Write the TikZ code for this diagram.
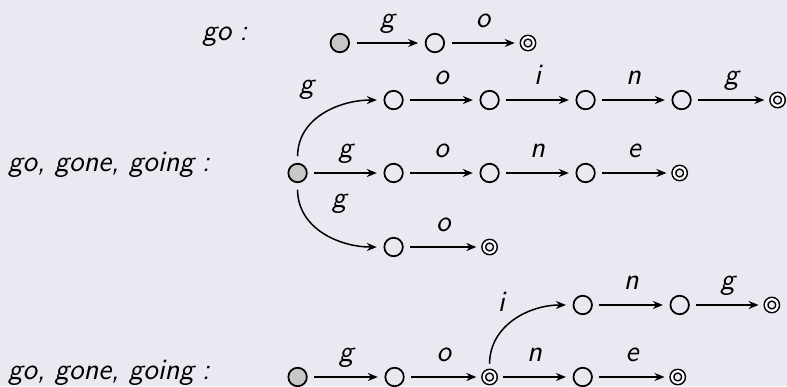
\documentclass[tikz,border=0pt]{standalone}
\usepackage{tikz}
\usepackage{xcolor}
\usetikzlibrary{arrows.meta,positioning}
\definecolor{slidebg}{RGB}{233,233,242}
\colorlet{startcol}{black!22}

\begin{document}
\begin{tikzpicture}[x=38.4pt, y=38.4pt,
  every node/.style={font=\fontsize{11.8}{14}\selectfont\sffamily\itshape},
  state/.style={circle, draw, line width=0.7pt, minimum size=7.4pt, inner sep=0pt, outer sep=3pt},
  initst/.style={state, fill=startcol},
  accst/.style={circle, draw, line width=0.6pt, double, double distance=0.9pt, minimum size=4.6pt, inner sep=0pt, outer sep=3pt},
  trans/.style={-{Stealth[length=4pt,width=3.2pt]}, line width=0.6pt},
  lbl/.style={above=3pt, inner sep=2pt, text depth=.25ex}]
  \fill[slidebg] (0,0) rectangle (8.198,-4.021);
  \useasboundingbox (0,0) rectangle (8.198,-4.021);
  % go
  \node[anchor=base east] (w1) at (2.67,-0.417) {go\;:};
  \node[initst] (a0) at (3.54,-0.448) {};
  \node[state] (a1) at (4.53,-0.448) {};
  \node[accst] (a2) at (5.50,-0.448) {};
  \draw[trans] (a0) -- node[lbl] {g} (a1);
  \draw[trans] (a1) -- node[lbl] {o} (a2);
  % go, gone, going : tree
  \node[anchor=base east] (w2) at (2.28,-1.79) {go, gone, going\;:};
  \node[initst] (b0) at (3.10,-1.802) {};
  \foreach \i/\x in {1/4.1,2/5.1,3/6.1,4/7.1}
    {\node[state] (t\i) at (\x,-1.042) {};}
  \node[accst] (t5) at (8.1,-1.042) {};
  \foreach \i/\x in {1/4.1,2/5.1,3/6.1}
    {\node[state] (m\i) at (\x,-1.802) {};}
  \node[accst] (m4) at (7.08,-1.802) {};
  \node[state] (d1) at (4.1,-2.573) {};
  \node[accst] (d2) at (5.1,-2.573) {};
  \draw[trans] (b0) to[out=90,in=180] node[above left, yshift=2pt] {g} (t1);
  \draw[trans] (b0) -- node[lbl] {g} (m1);
  \draw[trans] (b0) to[out=-90,in=180] node[above right, yshift=4pt] {g} (d1);
  \foreach \a/\b/\c in {1/2/o,2/3/i,3/4/n,4/5/g}
    {\draw[trans] (t\a) -- node[lbl] {\c} (t\b);}
  \foreach \a/\b/\c in {1/2/o,2/3/n,3/4/e}
    {\draw[trans] (m\a) -- node[lbl] {\c} (m\b);}
  \draw[trans] (d1) -- node[lbl] {o} (d2);
  % go, gone, going : minimal
  \node[anchor=base east] (w3) at (2.28,-3.958) {go, gone, going\;:};
  \node[initst] (c0) at (3.10,-3.927) {};
  \node[state] (c1) at (4.11,-3.927) {};
  \node[accst] (c2) at (5.10,-3.927) {};
  \node[state] (c3) at (6.07,-3.927) {};
  \node[accst] (c4) at (7.06,-3.927) {};
  \node[state] (u1) at (6.07,-3.177) {};
  \node[state] (u2) at (7.08,-3.177) {};
  \node[accst] (u3) at (8.04,-3.177) {};
  \draw[trans] (c0) -- node[lbl] {g} (c1);
  \draw[trans] (c1) -- node[lbl] {o} (c2);
  \draw[trans] (c2) -- node[lbl] {n} (c3);
  \draw[trans] (c3) -- node[lbl] {e} (c4);
  \draw[trans] (c2) to[out=90,in=180] node[above left] {i} (u1);
  \draw[trans] (u1) -- node[lbl] {n} (u2);
  \draw[trans] (u2) -- node[lbl] {g} (u3);
\end{tikzpicture}
\end{document}
